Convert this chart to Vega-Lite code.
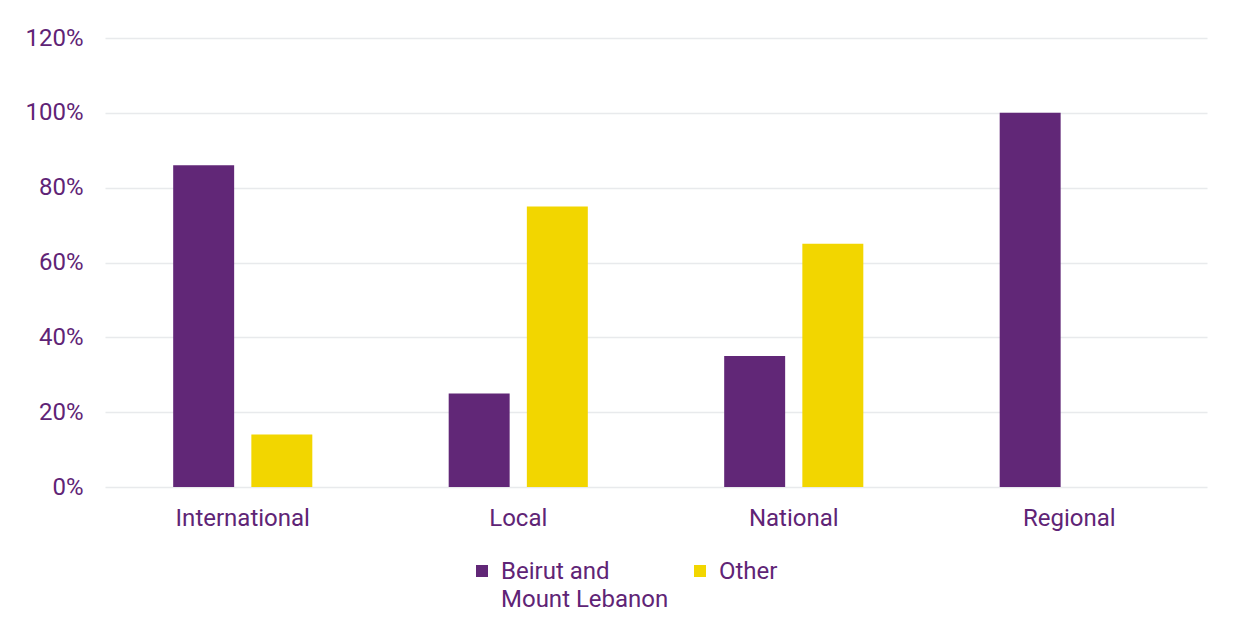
{
  "$schema": "https://vega.github.io/schema/vega-lite/v6.json",
  "width": 1102,
  "height": 449,
  "autosize": {"type": "none"},
  "padding": {"left": 105, "top": 38, "right": 34, "bottom": 150},
  "background": "#ffffff",
  "config": {
    "view": {"stroke": null},
    "font": "Roboto",
    "axis": {"labelFont": "Roboto", "labelFontSize": 24, "labelColor": "#5f2476", "domain": false, "ticks": false, "title": null},
    "legend": {"labelFont": "Roboto", "labelFontSize": 24, "labelColor": "#5f2476"}
  },
  "data": {
    "values": [
      {"scope": "International", "region": "Beirut and Mount Lebanon", "share": 0.86},
      {"scope": "International", "region": "Other", "share": 0.14},
      {"scope": "Local", "region": "Beirut and Mount Lebanon", "share": 0.25},
      {"scope": "Local", "region": "Other", "share": 0.75},
      {"scope": "National", "region": "Beirut and Mount Lebanon", "share": 0.35},
      {"scope": "National", "region": "Other", "share": 0.65},
      {"scope": "Regional", "region": "Beirut and Mount Lebanon", "share": 1.0},
      {"scope": "Regional", "region": "Other", "share": 0.0}
    ]
  },
  "mark": {"type": "bar"},
  "encoding": {
    "x": {
      "field": "scope", "type": "nominal",
      "scale": {"paddingInner": 0.495, "paddingOuter": 0.2475},
      "axis": {"labelAngle": 0, "labelPadding": 19, "grid": false}
    },
    "xOffset": {
      "field": "region", "type": "nominal",
      "scale": {"paddingInner": 0.22, "paddingOuter": 0}
    },
    "y": {
      "field": "share", "type": "quantitative",
      "scale": {"domain": [0, 1.2], "nice": false},
      "axis": {"format": "%", "values": [0, 0.2, 0.4, 0.6, 0.8, 1.0, 1.2], "labelPadding": 22, "gridColor": "#e8eaec", "gridWidth": 1.5}
    },
    "color": {
      "field": "region", "type": "nominal",
      "scale": {"domain": ["Beirut and Mount Lebanon", "Other"], "range": ["#612777", "#f2d600"]},
      "legend": {
        "title": null,
        "orient": "none",
        "legendX": 365,
        "legendY": 521,
        "direction": "horizontal",
        "symbolType": "square",
        "symbolSize": 144,
        "symbolStrokeWidth": 0,
        "labelOffset": 7,
        "columnPadding": 19,
        "labelLimit": 300,
        "labelBaseline": "alphabetic",
        "encode": {"labels": {"update": {"dy": {"value": 8}, "lineHeight": {"value": 28}}}},
        "labelExpr": "datum.label == 'Beirut and Mount Lebanon' ? ['Beirut  and', ' Mount Lebanon'] : [datum.label, ' ']"
      }
    }
  }
}
